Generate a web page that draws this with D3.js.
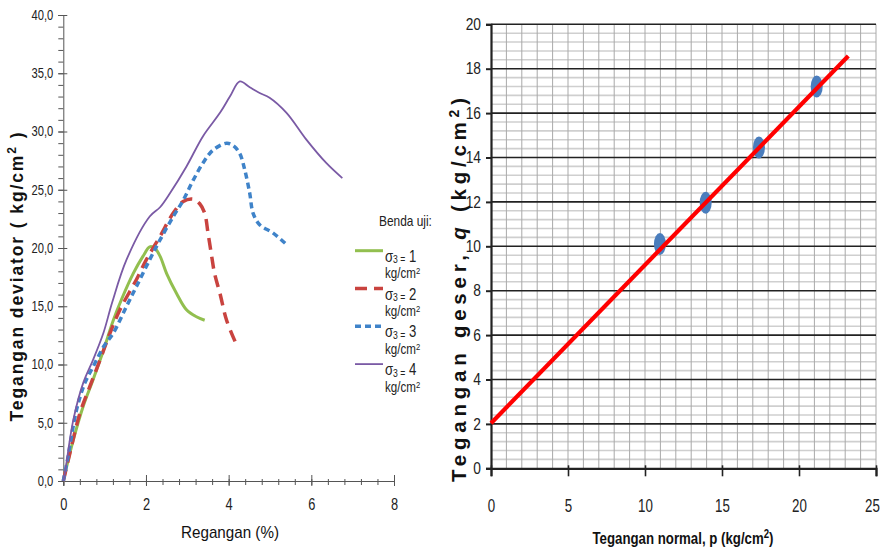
<!DOCTYPE html>
<html><head><meta charset="utf-8">
<script src="https://cdn.jsdelivr.net/npm/d3@7"></script>
<style>body{margin:0;background:#fff} svg{display:block;background:#fff}</style>
</head><body><svg id="c" width="884" height="556"></svg>
<script>
// ---------- Left chart data: Regangan (%) vs Tegangan deviator ----------
const strain1 = [0, 0.24, 0.48, 0.72, 0.97, 1.21, 1.41, 1.69, 1.93, 2.09, 2.21, 2.34, 2.50, 2.74, 2.98, 3.22, 3.42];
const dev1    = [0, 3.5, 6.4, 8.7, 11.2, 13.8, 15.6, 17.8, 19.3, 20.1, 20.0, 19.3, 17.8, 16.1, 14.7, 14.1, 13.8];
const strain2 = [0, 0.16, 0.40, 0.64, 0.89, 1.13, 1.37, 1.77, 2.01, 2.34, 2.66, 2.90, 3.14, 3.30, 3.42, 3.50, 3.58, 3.66, 3.79, 3.95, 4.19];
const dev2    = [0, 2.4, 5.8, 8.1, 10.4, 12.7, 14.7, 17.3, 19.0, 21.0, 23.0, 24.0, 24.2, 23.8, 23.0, 21.3, 19.5, 17.8, 16.1, 13.8, 11.7];
const strain3 = [0, 0.10, 0.32, 0.52, 0.72, 0.97, 1.21, 1.53, 1.77, 2.09, 2.34, 2.66, 2.90, 3.14, 3.38, 3.62, 3.95, 4.11, 4.27, 4.39, 4.51, 4.59, 4.75, 5.07, 5.40];
const dev3    = [0, 1.8, 6.1, 8.4, 9.8, 11.5, 12.7, 15.0, 16.7, 19.0, 20.7, 22.7, 24.1, 25.8, 27.3, 28.4, 29.0, 28.8, 28.1, 26.7, 24.7, 23.0, 22.0, 21.3, 20.3];
const strain4 = [0, 0.04, 0.24, 0.48, 0.72, 0.97, 1.18, 1.53, 2.09, 2.34, 2.58, 2.98, 3.38, 3.79, 4.03, 4.27, 4.51, 4.75, 4.99, 5.40, 5.88, 6.36, 6.75];
const dev4    = [0, 0.7, 5.2, 8.4, 10.4, 12.7, 15.3, 19.0, 22.7, 23.5, 24.7, 27.0, 29.6, 31.6, 33.0, 34.3, 33.8, 33.3, 32.9, 31.6, 29.3, 27.3, 26.0];
const sigma3  = ["1", "2", "3", "4"];
const leftYTicks = [0, 5, 10, 15, 20, 25, 30, 35, 40];
const leftXTicks = [0, 2, 4, 6, 8];

// ---------- Right chart data: Tegangan normal p vs Tegangan geser q ----------
const normalP = [10.97, 13.94, 17.4, 21.15];
const shearQ  = [10.10, 11.96, 14.45, 17.2];
const fitP = [0, 23.2];
const fitQ = [2.03, 18.57];
const rightYTicks = [0, 2, 4, 6, 8, 10, 12, 14, 16, 18, 20];
const rightXTicks = [0, 5, 10, 15, 20, 25];

const SANS = "'Liberation Sans',Arial,sans-serif";
const svg = d3.select("#c");
const fmtComma = d3.formatLocale({decimal: ",", thousands: ".", grouping: [3], currency: ["", ""]}).format(".1f");
// condense a text horizontally (emulates a narrow font)
function narrow(sel, f) {
  sel.each(function () {
    const L = this.getComputedTextLength();
    d3.select(this).attr("textLength", L * f).attr("lengthAdjust", "spacingAndGlyphs");
  });
}

// ================= LEFT CHART =================
const xL = d3.scaleLinear().domain([0, 8]).range([63.3, 394]);
const yL = d3.scaleLinear().domain([0, 40]).range([481, 15]);
const gL = svg.append("g");
const axisCol = "#555";

// minor ticks
gL.append("g").attr("transform", `translate(${xL(0)},0)`)
  .call(d3.axisLeft(yL).tickValues(d3.range(0, 41, 1)).tickSize(5).tickFormat(""))
  .call(g => { g.select(".domain").remove(); g.selectAll("line").attr("stroke", axisCol); });
gL.append("g").attr("transform", `translate(0,${yL(0)})`)
  .call(d3.axisBottom(xL).tickValues(d3.range(0, 8.01, 0.4)).tickSize(4).tickFormat(""))
  .call(g => { g.select(".domain").remove(); g.selectAll("line").attr("stroke", axisCol).attr("y1", -2); });
// major y
gL.append("g").attr("transform", `translate(${xL(0)},0)`)
  .call(d3.axisLeft(yL).tickValues(leftYTicks).tickSize(5).tickPadding(5).tickFormat(fmtComma))
  .call(g => {
    g.select(".domain").attr("stroke", axisCol);
    g.selectAll("line").attr("stroke", axisCol).attr("x2", -5).attr("x1", 4);
    g.selectAll("text").attr("font-family", SANS).attr("font-size", 14).attr("fill", "#222").call(narrow, 0.8);
  });
// major x
gL.append("g").attr("transform", `translate(0,${yL(0)})`)
  .call(d3.axisBottom(xL).tickValues(leftXTicks).tickSize(5).tickPadding(13).tickFormat(d3.format("d")))
  .call(g => {
    g.select(".domain").attr("stroke", axisCol);
    g.selectAll("line").attr("stroke", axisCol).attr("y1", -6);
    g.selectAll("text").attr("font-family", SANS).attr("font-size", 16).attr("fill", "#222").call(narrow, 0.8);
  });

// titles
gL.append("text").attr("x", 230).attr("y", 538).attr("text-anchor", "middle")
  .attr("font-family", SANS).attr("font-size", 17).attr("fill", "#111")
  .attr("textLength", 98).attr("lengthAdjust", "spacingAndGlyphs").text("Regangan (%)");
const tL = gL.append("text").attr("transform", "translate(23,277) rotate(-90)").attr("text-anchor", "middle")
  .attr("font-family", SANS).attr("font-weight", "bold").attr("font-size", 17.5).attr("fill", "#111")
  .attr("textLength", 289).attr("lengthAdjust", "spacing");
tL.append("tspan").text("Tegangan deviator ( kg/cm");
tL.append("tspan").attr("dy", -7).attr("font-size", 12).text("2");
tL.append("tspan").attr("dy", 7).text(" )");

// series
const seriesL = [
  {x: strain1, y: dev1, color: "#92bf4f", w: 3, dash: null},
  {x: strain2, y: dev2, color: "#c9433f", w: 3.5, dash: "12,7"},
  {x: strain3, y: dev3, color: "#3f83c9", w: 3.5, dash: "6,4"},
  {x: strain4, y: dev4, color: "#7a5aa5", w: 1.8, dash: null}
];
const lineL = d3.line().x(d => xL(d[0])).y(d => yL(d[1])).curve(d3.curveCatmullRom.alpha(0.5));
seriesL.forEach(s => {
  gL.append("path").attr("d", lineL(s.x.map((v, i) => [v, s.y[i]])))
    .attr("fill", "none").attr("stroke", s.color).attr("stroke-width", s.w)
    .attr("stroke-dasharray", s.dash).attr("stroke-linejoin", "round");
});

// legend
const lg = gL.append("g");
lg.append("text").attr("x", 379).attr("y", 226).attr("font-family", SANS).attr("font-size", 14.5)
  .attr("fill", "#222").text("Benda uji:").call(narrow, 0.82);
seriesL.forEach((s, i) => {
  const ly = 250.7 + i * 37.8;
  lg.append("line").attr("x1", 355).attr("x2", 383).attr("y1", ly).attr("y2", ly)
    .attr("stroke", s.color).attr("stroke-width", s.w).attr("stroke-dasharray", s.dash);
  const t1 = lg.append("text").attr("x", 385).attr("y", ly + 11).attr("font-family", SANS)
    .attr("font-size", 16).attr("fill", "#222");
  t1.append("tspan").text("σ");
  t1.append("tspan").attr("dy", 1.5).attr("font-size", 10.5).text("3 =");
  t1.append("tspan").attr("dy", -1.5).text(" " + sigma3[i]);
  t1.call(narrow, 0.82);
  const t2 = lg.append("text").attr("x", 385).attr("y", ly + 27.5).attr("font-family", SANS)
    .attr("font-size", 14.5).attr("fill", "#222");
  t2.append("tspan").text("kg/cm");
  t2.append("tspan").attr("dy", -4).attr("font-size", 9.5).text("2");
  t2.call(narrow, 0.8);
});

// ================= RIGHT CHART =================
const xR = d3.scaleLinear().domain([0, 25]).range([491, 876]);
const yR = d3.scaleLinear().domain([0, 20]).range([468.3, 24.3]);
const gR = svg.append("g");

// minor horizontal grid
gR.append("g").selectAll("line").data(d3.range(0.4, 20, 0.4).filter(v => Math.abs(v / 2 - Math.round(v / 2)) > 0.01))
  .join("line").attr("x1", xR(0)).attr("x2", xR(25)).attr("y1", d => yR(d)).attr("y2", d => yR(d))
  .attr("stroke", "#cfcfcf").attr("stroke-width", 1.6);
// vertical grid
gR.append("g").selectAll("line").data(d3.range(1, 26, 1))
  .join("line").attr("x1", d => xR(d)).attr("x2", d => xR(d)).attr("y1", yR(0)).attr("y2", yR(20))
  .attr("stroke", "#a9a9a9").attr("stroke-width", 1);
// major horizontal grid
gR.append("g").selectAll("line").data(rightYTicks.filter(d => d > 0))
  .join("line").attr("x1", xR(0)).attr("x2", xR(25)).attr("y1", d => yR(d)).attr("y2", d => yR(d))
  .attr("stroke", "#222").attr("stroke-width", 1.6);

// axes
gR.append("g").attr("transform", `translate(${xR(0)},0)`)
  .call(d3.axisLeft(yR).tickValues(rightYTicks).tickSize(5).tickPadding(5))
  .call(g => {
    g.select(".domain").attr("stroke", "#222").attr("stroke-width", 2.2);
    g.selectAll("line").attr("stroke", "#222").attr("stroke-width", 2);
    g.selectAll("text").attr("font-family", SANS).attr("font-size", 16).attr("fill", "#222").call(narrow, 0.86);
  });
gR.append("g").attr("transform", `translate(0,${yR(0)})`)
  .call(d3.axisBottom(xR).tickValues(rightXTicks).tickSize(8).tickPadding(23))
  .call(g => {
    g.select(".domain").attr("stroke", "#222").attr("stroke-width", 2.2);
    g.selectAll("line").attr("stroke", "#222").attr("stroke-width", 1.6).attr("y1", -3);
    g.selectAll("text").attr("font-family", SANS).attr("font-size", 18.5).attr("fill", "#222")
      .attr("dx", d => d === 25 ? -4 : 0).call(narrow, 0.72);
  });

// titles
const tRx = gR.append("text").attr("x", 683).attr("y", 544).attr("text-anchor", "middle")
  .attr("font-family", SANS).attr("font-weight", "bold").attr("font-size", 16.5).attr("fill", "#111")
  .attr("textLength", 181).attr("lengthAdjust", "spacingAndGlyphs");
tRx.append("tspan").text("Tegangan normal, p (kg/cm");
tRx.append("tspan").attr("dy", -6).attr("font-size", 12).text("2");
tRx.append("tspan").attr("dy", 6).text(")");
const tRy = gR.append("text").attr("transform", "translate(466,290) rotate(-90)").attr("text-anchor", "middle")
  .attr("font-family", SANS).attr("font-weight", "bold").attr("font-size", 20.5).attr("fill", "#111")
  .attr("textLength", 384).attr("lengthAdjust", "spacing");
tRy.append("tspan").text("Tegangan geser, ");
tRy.append("tspan").attr("font-style", "italic").text("q");
tRy.append("tspan").text(" (kg/cm");
tRy.append("tspan").attr("dy", -7).attr("font-size", 14).text("2");
tRy.append("tspan").attr("dy", 7).text(")");

// points
gR.append("g").selectAll("ellipse").data(normalP.map((p, i) => [p, shearQ[i]]))
  .join("ellipse").attr("cx", d => xR(d[0])).attr("cy", d => yR(d[1]))
  .attr("rx", 6).attr("ry", 11).attr("fill", "#4a7dbd");
// fit line
gR.append("path").attr("d", d3.line().x(d => xR(d[0])).y(d => yR(d[1]))(fitP.map((p, i) => [p, fitQ[i]])))
  .attr("fill", "none").attr("stroke", "#ff0000").attr("stroke-width", 4.2);
</script></body></html>
